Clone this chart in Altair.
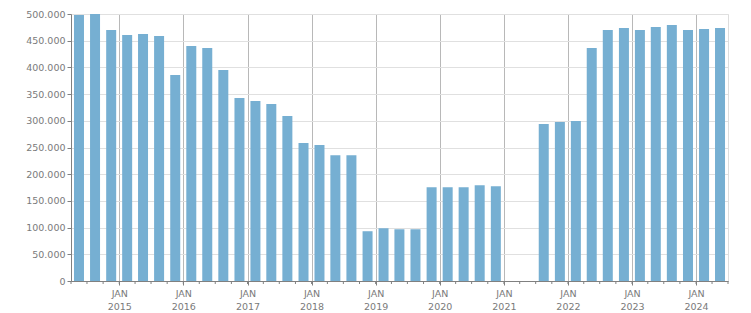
import altair as alt
import pandas as pd

# Quarter start dates of each bar (Q2 2014 .. Q2 2024, Q1/Q2 2021 missing)
quarters = [
    "2014-04-01", "2014-07-01", "2014-10-01",
    "2015-01-01", "2015-04-01", "2015-07-01", "2015-10-01",
    "2016-01-01", "2016-04-01", "2016-07-01", "2016-10-01",
    "2017-01-01", "2017-04-01", "2017-07-01", "2017-10-01",
    "2018-01-01", "2018-04-01", "2018-07-01", "2018-10-01",
    "2019-01-01", "2019-04-01", "2019-07-01", "2019-10-01",
    "2020-01-01", "2020-04-01", "2020-07-01", "2020-10-01",
    "2021-07-01", "2021-10-01",
    "2022-01-01", "2022-04-01", "2022-07-01", "2022-10-01",
    "2023-01-01", "2023-04-01", "2023-07-01", "2023-10-01",
    "2024-01-01", "2024-04-01",
]
values = [
    498000, 500000, 470000,
    460500, 462500, 458800, 385600,
    440100, 436300, 395000, 342700,
    337000, 331300, 308800, 258200,
    254500, 235700, 235700, 93200,
    98800, 96900, 96900, 175600,
    175600, 175600, 179400, 177500,
    293900, 297700,
    299500, 436300, 470000, 473800,
    470000, 475600, 479400, 470000,
    471900, 473800,
]
# quarterly minor tick positions along the x axis
tick_dates = pd.date_range("2014-04-01", "2024-07-01", freq="QS").strftime("%Y-%m-%d").tolist()
year_starts = [f"{y}-01-01" for y in range(2015, 2025)]

starts = pd.to_datetime(quarters)
ends = starts + pd.offsets.QuarterBegin(startingMonth=1)
mids = starts + (ends - starts) / 2
df = pd.DataFrame({"date": mids, "value": values})
ticks_df = pd.DataFrame({"date": pd.to_datetime(tick_dates)})

FONT = "DejaVu Sans"
LABEL = "#7a7a7a"

x_scale = alt.Scale(domain=[pd.Timestamp("2014-04-01").isoformat(), pd.Timestamp("2024-07-01").isoformat()],
                    nice=False, padding=0)

bars = alt.Chart(df).mark_bar(size=10, color="#76afd2").encode(
    x=alt.X("date:T", scale=x_scale,
            axis=alt.Axis(values=[pd.Timestamp(d).isoformat() for d in year_starts],
                          title=None, grid=True, gridColor="#b8b8b8", gridWidth=1,
                          domainColor="#808080", tickColor="#808080", tickSize=4,
                          labelExpr="['JAN', timeFormat(datum.value, '%Y')]",
                          labelFont=FONT, labelFontSize=9.5, labelColor=LABEL,
                          labelPadding=3, labelLineHeight=13)),
    y=alt.Y("value:Q",
            scale=alt.Scale(domain=[0, 500000], nice=False, padding=0),
            axis=alt.Axis(values=list(range(0, 500001, 50000)), title=None,
                          gridColor="#e0e0e0", domainColor="#808080", tickColor="#808080",
                          tickSize=4, labelPadding=2,
                          labelExpr="replace(format(datum.value, ',d'), /,/g, '.')",
                          labelFont=FONT, labelFontSize=9.5, labelColor=LABEL)),
)

minor = alt.Chart(ticks_df).mark_rule(color="#808080", strokeWidth=1).encode(
    x=alt.X("date:T", scale=x_scale),
    y=alt.value(267),
    y2=alt.value(270),
)

chart = alt.layer(bars, minor).properties(
    width=657, height=267,
    padding={"left": 71, "top": 14, "right": 23, "bottom": 32},
    autosize="none",
).configure_view(stroke="#dcdcdc", strokeWidth=1).configure(background="white")

chart.save("out.html", embed_options={"renderer": "svg", "actions": False})
